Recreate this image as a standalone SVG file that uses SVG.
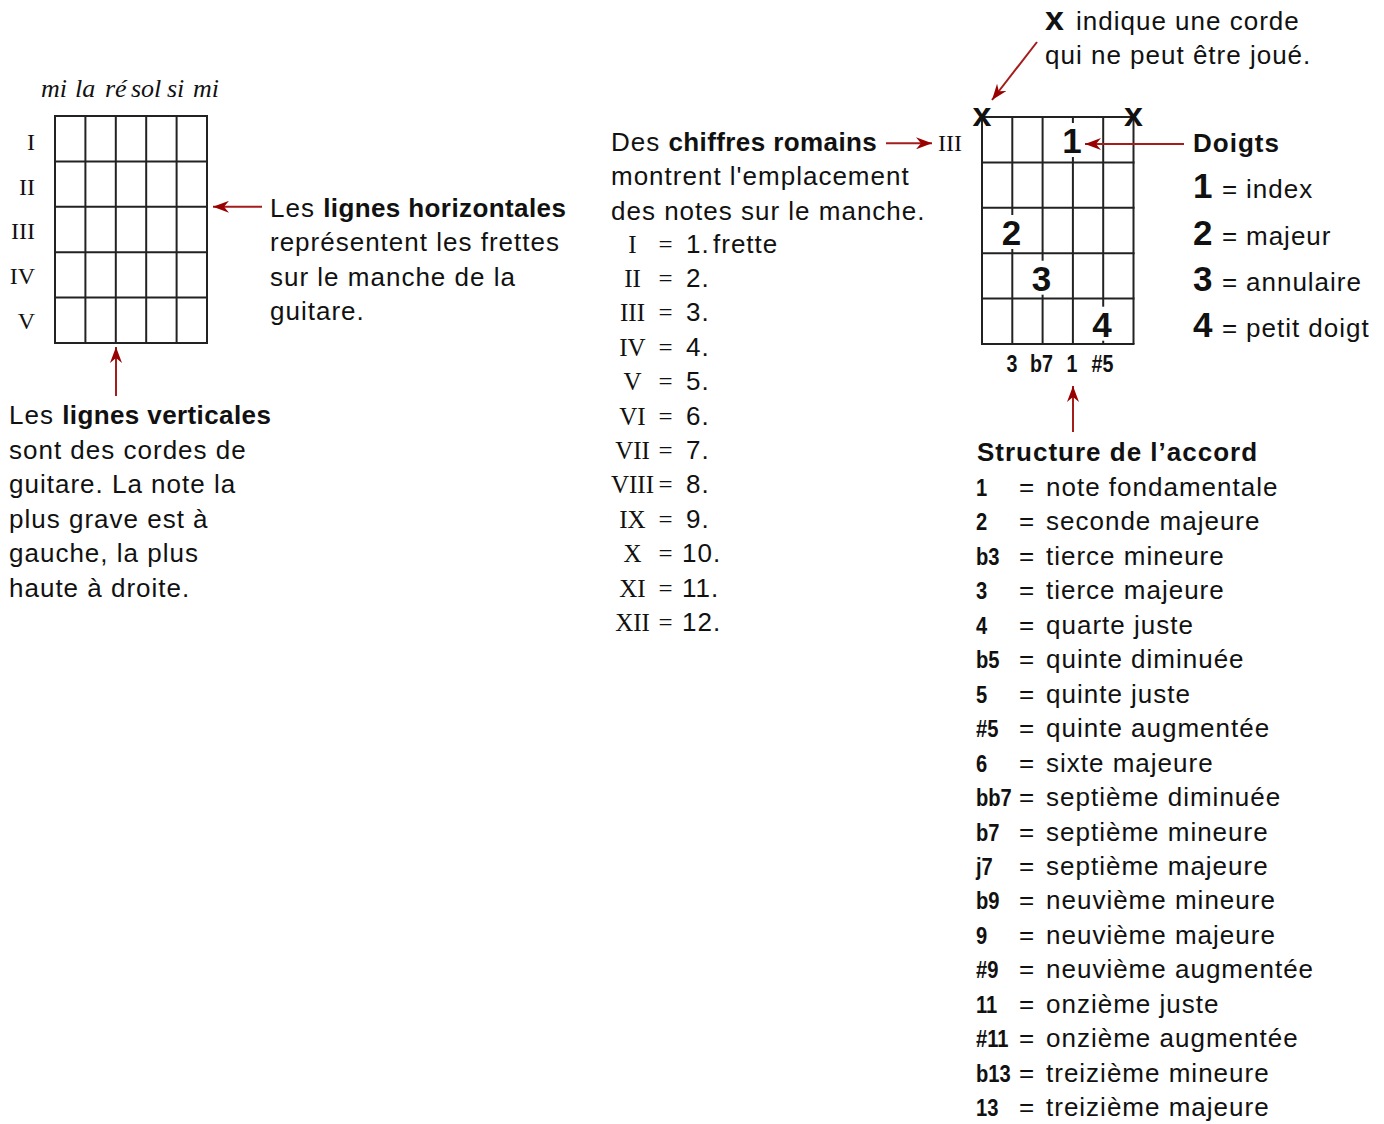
<svg xmlns="http://www.w3.org/2000/svg" width="1384" height="1124" viewBox="0 0 1384 1124">
<style>
.sans{font-family:"Liberation Sans",Arial,Helvetica,sans-serif;font-size:26px;letter-spacing:1px;fill:#111}
.b{font-weight:bold;letter-spacing:0.4px}
.serif{font-family:"Liberation Serif","Times New Roman",serif;font-size:24px;fill:#111}
.it{font-style:italic;font-size:26px}
.lab{font-family:"Liberation Sans",Arial,sans-serif;font-weight:bold;font-size:24px;fill:#111}
.big{font-family:"Liberation Sans",Arial,sans-serif;font-weight:bold;font-size:34px;fill:#111}
.grid line{stroke:#222;stroke-width:2}
.conn line{stroke:#a51c1c;stroke-width:2;marker-end:url(#ah)}
</style>
<defs>
<marker id="ah" viewBox="0 0 16 12" refX="16" refY="6" markerWidth="16" markerHeight="12" orient="auto" markerUnits="userSpaceOnUse">
<path d="M0,0 L16,6 L0,12 L5,6 z" fill="#990000"/>
</marker>
</defs>
<rect width="1384" height="1124" fill="#fff"/>

<g id="grid-left" class="grid">
<line x1="55" y1="116" x2="55" y2="343"/>
<line x1="85.4" y1="116" x2="85.4" y2="343"/>
<line x1="115.8" y1="116" x2="115.8" y2="343"/>
<line x1="146.2" y1="116" x2="146.2" y2="343"/>
<line x1="176.6" y1="116" x2="176.6" y2="343"/>
<line x1="207" y1="116" x2="207" y2="343"/>
<line x1="54" y1="116" x2="208" y2="116"/>
<line x1="54" y1="161.4" x2="208" y2="161.4"/>
<line x1="54" y1="206.8" x2="208" y2="206.8"/>
<line x1="54" y1="252.2" x2="208" y2="252.2"/>
<line x1="54" y1="297.6" x2="208" y2="297.6"/>
<line x1="54" y1="343" x2="208" y2="343"/>
</g>

<g id="strings-names">
<text class="serif it" y="97"><tspan x="41">mi</tspan><tspan x="75">la</tspan><tspan x="105">ré</tspan><tspan x="131">sol</tspan><tspan x="167">si</tspan><tspan x="193">mi</tspan></text>
</g>

<g id="fret-labels-left" class="serif" text-anchor="end">
<text x="35" y="150">I</text>
<text x="35" y="195">II</text>
<text x="35" y="239">III</text>
<text x="35" y="284">IV</text>
<text x="35" y="329">V</text>
</g>

<g id="note-horizontal" class="sans">
<text x="270" y="216.5">Les <tspan class="b">lignes horizontales</tspan></text>
<text x="270" y="251">représentent les frettes</text>
<text x="270" y="285.5">sur le manche de la</text>
<text x="270" y="320">guitare.</text>
</g>

<g id="note-vertical" class="sans">
<text x="9" y="424">Les <tspan class="b">lignes verticales</tspan></text>
<text x="9" y="458.5">sont des cordes de</text>
<text x="9" y="493">guitare. La note la</text>
<text x="9" y="527.5">plus grave est à</text>
<text x="9" y="562">gauche, la plus</text>
<text x="9" y="596.5">haute à droite.</text>
</g>

<g id="note-roman" class="sans">
<text x="611" y="150.7">Des <tspan class="b">chiffres romains</tspan></text>
<text x="611" y="185.2">montrent l'emplacement</text>
<text x="611" y="219.7">des notes sur le manche.</text>
</g>

<g id="roman-list">
<g class="serif" text-anchor="middle" style="font-size:25px">
<text x="632.5" y="252.5">I</text>
<text x="632.5" y="286.9">II</text>
<text x="632.5" y="321.3">III</text>
<text x="632.5" y="355.7">IV</text>
<text x="632.5" y="390.1">V</text>
<text x="632.5" y="424.5">VI</text>
<text x="632.5" y="458.9">VII</text>
<text x="632.5" y="493.3">VIII</text>
<text x="632.5" y="527.7">IX</text>
<text x="632.5" y="562.1">X</text>
<text x="632.5" y="596.5">XI</text>
<text x="632.5" y="630.9">XII</text>
</g>
<g class="serif" style="font-size:25px">
<text x="658.5" y="252.5">=</text>
<text x="658.5" y="286.9">=</text>
<text x="658.5" y="321.3">=</text>
<text x="658.5" y="355.7">=</text>
<text x="658.5" y="390.1">=</text>
<text x="658.5" y="424.5">=</text>
<text x="658.5" y="458.9">=</text>
<text x="658.5" y="493.3">=</text>
<text x="658.5" y="527.7">=</text>
<text x="658.5" y="562.1">=</text>
<text x="658.5" y="596.5">=</text>
<text x="658.5" y="630.9">=</text>
</g>
<g class="sans">
<text y="252.5"><tspan x="686">1.</tspan><tspan x="713">frette</tspan></text>
<text x="686" y="286.9">2.</text>
<text x="686" y="321.3">3.</text>
<text x="686" y="355.7">4.</text>
<text x="686" y="390.1">5.</text>
<text x="686" y="424.5">6.</text>
<text x="686" y="458.9">7.</text>
<text x="686" y="493.3">8.</text>
<text x="686" y="527.7">9.</text>
<text x="682" y="562.1">10.</text>
<text x="682" y="596.5">11.</text>
<text x="682" y="630.9">12.</text>
</g>
</g>

<g id="chord-fret-label">
<text class="serif" x="938" y="151">III</text>
</g>

<g id="chord-grid" class="grid">
<line x1="982" y1="117" x2="982" y2="344"/>
<line x1="1012.3" y1="117" x2="1012.3" y2="344"/>
<line x1="1042.6" y1="117" x2="1042.6" y2="344"/>
<line x1="1072.9" y1="117" x2="1072.9" y2="344"/>
<line x1="1103.2" y1="117" x2="1103.2" y2="344"/>
<line x1="1133.5" y1="117" x2="1133.5" y2="344"/>
<line x1="981" y1="117" x2="1134.5" y2="117"/>
<line x1="981" y1="162.4" x2="1134.5" y2="162.4"/>
<line x1="981" y1="207.8" x2="1134.5" y2="207.8"/>
<line x1="981" y1="253.2" x2="1134.5" y2="253.2"/>
<line x1="981" y1="298.6" x2="1134.5" y2="298.6"/>
<line x1="981" y1="344" x2="1134.5" y2="344"/>
</g>

<g id="chord-fingers">
<rect x="1062" y="123" width="22" height="34" fill="#fff"/>
<rect x="1001.3" y="215" width="22" height="34" fill="#fff"/>
<rect x="1031.6" y="260.7" width="22" height="34" fill="#fff"/>
<rect x="1092.2" y="306.7" width="22" height="34" fill="#fff"/>
<g class="big" text-anchor="middle" style="font-size:35px">
<text x="1072" y="153">1</text>
<text x="1011.5" y="245">2</text>
<text x="1041.5" y="290.7">3</text>
<text x="1102" y="336.7">4</text>
</g>
</g>

<g id="chord-mutes" class="big" text-anchor="middle">
<text x="982" y="125.5">x</text>
<text x="1133.5" y="125.5">x</text>
</g>

<g id="chord-structure-labels" class="lab" text-anchor="middle">
<text transform="translate(1012,372) scale(0.82,1)">3</text>
<text transform="translate(1041.5,372) scale(0.82,1)">b7</text>
<text transform="translate(1072,372) scale(0.82,1)">1</text>
<text transform="translate(1102.5,372) scale(0.82,1)">#5</text>
</g>

<g id="note-mute">
<text class="big" x="1045" y="30">x</text>
<text class="sans" x="1076" y="30">indique une corde</text>
<text class="sans" x="1045" y="64">qui ne peut être joué.</text>
</g>

<g id="fingers-legend">
<text class="sans b" x="1193" y="151.7" style="letter-spacing:1px">Doigts</text>
<g class="big" style="font-size:35px">
<text x="1193" y="198.3">1</text>
<text x="1193" y="245">2</text>
<text x="1193" y="290.7">3</text>
<text x="1193" y="336.7">4</text>
</g>
<g class="sans">
<text y="198.3"><tspan x="1222">=</tspan><tspan x="1246">index</tspan></text>
<text y="245"><tspan x="1222">=</tspan><tspan x="1246">majeur</tspan></text>
<text y="290.7"><tspan x="1222">=</tspan><tspan x="1246">annulaire</tspan></text>
<text y="336.7"><tspan x="1222">=</tspan><tspan x="1246">petit doigt</tspan></text>
</g>
</g>

<g id="structure-legend">
<text class="sans b" x="977" y="461" style="letter-spacing:1px">Structure de l’accord</text>
<g class="lab">
<text transform="translate(976,496) scale(0.84,1)">1</text>
<text transform="translate(976,530.45) scale(0.84,1)">2</text>
<text transform="translate(976,564.9) scale(0.84,1)">b3</text>
<text transform="translate(976,599.35) scale(0.84,1)">3</text>
<text transform="translate(976,633.8) scale(0.84,1)">4</text>
<text transform="translate(976,668.25) scale(0.84,1)">b5</text>
<text transform="translate(976,702.7) scale(0.84,1)">5</text>
<text transform="translate(976,737.15) scale(0.84,1)">#5</text>
<text transform="translate(976,771.6) scale(0.84,1)">6</text>
<text transform="translate(976,806.05) scale(0.84,1)">bb7</text>
<text transform="translate(976,840.5) scale(0.84,1)">b7</text>
<text transform="translate(976,874.95) scale(0.84,1)">j7</text>
<text transform="translate(976,909.4) scale(0.84,1)">b9</text>
<text transform="translate(976,943.85) scale(0.84,1)">9</text>
<text transform="translate(976,978.3) scale(0.84,1)">#9</text>
<text transform="translate(976,1012.75) scale(0.84,1)">11</text>
<text transform="translate(976,1047.2) scale(0.84,1)">#11</text>
<text transform="translate(976,1081.65) scale(0.84,1)">b13</text>
<text transform="translate(976,1116.1) scale(0.84,1)">13</text>
</g>
<g class="sans">
<text y="496"><tspan x="1019">=</tspan><tspan x="1046">note fondamentale</tspan></text>
<text y="530.45"><tspan x="1019">=</tspan><tspan x="1046">seconde majeure</tspan></text>
<text y="564.9"><tspan x="1019">=</tspan><tspan x="1046">tierce mineure</tspan></text>
<text y="599.35"><tspan x="1019">=</tspan><tspan x="1046">tierce majeure</tspan></text>
<text y="633.8"><tspan x="1019">=</tspan><tspan x="1046">quarte juste</tspan></text>
<text y="668.25"><tspan x="1019">=</tspan><tspan x="1046">quinte diminuée</tspan></text>
<text y="702.7"><tspan x="1019">=</tspan><tspan x="1046">quinte juste</tspan></text>
<text y="737.15"><tspan x="1019">=</tspan><tspan x="1046">quinte augmentée</tspan></text>
<text y="771.6"><tspan x="1019">=</tspan><tspan x="1046">sixte majeure</tspan></text>
<text y="806.05"><tspan x="1019">=</tspan><tspan x="1046">septième diminuée</tspan></text>
<text y="840.5"><tspan x="1019">=</tspan><tspan x="1046">septième mineure</tspan></text>
<text y="874.95"><tspan x="1019">=</tspan><tspan x="1046">septième majeure</tspan></text>
<text y="909.4"><tspan x="1019">=</tspan><tspan x="1046">neuvième mineure</tspan></text>
<text y="943.85"><tspan x="1019">=</tspan><tspan x="1046">neuvième majeure</tspan></text>
<text y="978.3"><tspan x="1019">=</tspan><tspan x="1046">neuvième augmentée</tspan></text>
<text y="1012.75"><tspan x="1019">=</tspan><tspan x="1046">onzième juste</tspan></text>
<text y="1047.2"><tspan x="1019">=</tspan><tspan x="1046">onzième augmentée</tspan></text>
<text y="1081.65"><tspan x="1019">=</tspan><tspan x="1046">treizième mineure</tspan></text>
<text y="1116.1"><tspan x="1019">=</tspan><tspan x="1046">treizième majeure</tspan></text>
</g>
</g>

<g id="connectors" class="conn">
<line x1="262" y1="206.8" x2="213" y2="206.8"/>
<line x1="116" y1="396" x2="116" y2="347"/>
<line x1="886" y1="143.3" x2="932" y2="143.3"/>
<line x1="1037" y1="42" x2="992" y2="100"/>
<line x1="1184" y1="144" x2="1085" y2="144"/>
<line x1="1073" y1="432" x2="1073" y2="386"/>
</g>
</svg>
